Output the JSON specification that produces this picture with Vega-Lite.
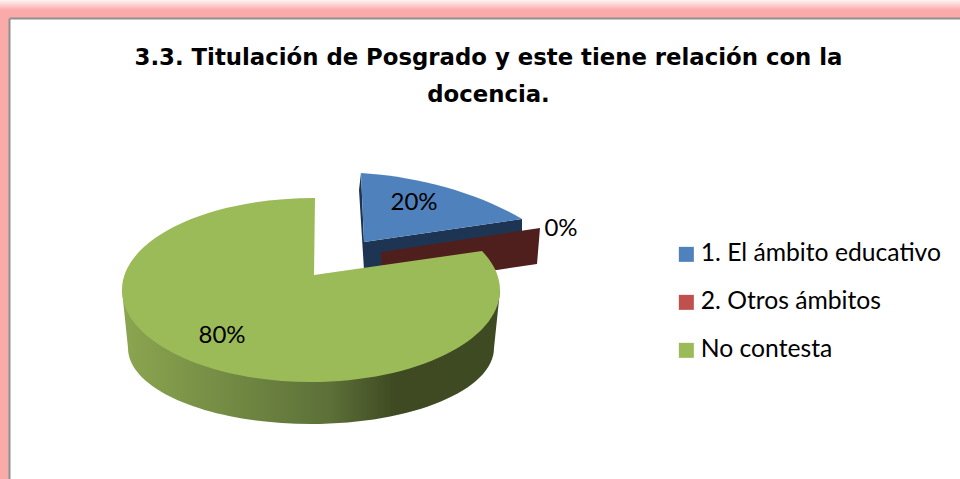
{"$schema":"https://vega.github.io/schema/vega-lite/v6.json","width":951,"height":461,"autosize":"none","padding":{"left":9,"top":18,"right":0,"bottom":0},"background":"#fbaaaa","view":{"fill":"#ffffff","stroke":null},"title":{"text":["3.3. Titulación de Posgrado y este tiene relación con la","docencia."],"font":"DejaVu Sans","fontWeight":"bold","fontSize":22.8,"color":"#000000","anchor":"middle","orient":"top","offset":-107,"dx":4,"lineHeight":37},"data":{"values":[{"category":"1. El ámbito educativo","share":0.2},{"category":"2. Otros ámbitos","share":0},{"category":"No contesta","share":0.8}]},"layer":[{"mark":{"type":"rule","opacity":0},"encoding":{"x":{"datum":0.5,"type":"quantitative","scale":{"domain":[0,1]},"axis":{"orient":"top","labels":false,"ticks":false,"grid":false,"title":null,"domain":true,"domainColor":"#8f8f8f","domainWidth":2}},"y":{"datum":0.5,"type":"quantitative","scale":{"domain":[0,1]},"axis":{"orient":"left","labels":false,"ticks":false,"grid":false,"title":null,"domain":true,"domainColor":"#8f8f8f","domainWidth":2}}}},{"transform":[{"filter":"datum.share === 0"}],"mark":{"type":"point","filled":true,"opacity":1,"size":40000,"x":471,"y":0,"fill":{"gradient":"linear","x1":0,"y1":0,"x2":0,"y2":1,"stops":[{"offset":0,"color":"#fff4f4"},{"offset":1,"color":"#fbaaaa"}]},"shape":"M -4.8 -.18 L 4.9 -.18 L 4.9 -.08 L -4.8 -.08 Z"},"encoding":{}},{"transform":[{"filter":"datum.share === 0.2"}],"mark":{"type":"point","filled":true,"opacity":1,"size":40000,"x":302,"y":272,"fill":"#1d3552","shape":"M .53 -.48 L .50 -1.17 L .48 -1.0 L .53 -.2 L 2.11 -.55 L 2.11 -.71 Z"},"encoding":{}},{"transform":[{"filter":"datum.share === 0.2"}],"mark":{"type":"point","filled":true,"opacity":1,"size":40000,"x":302,"y":272,"shape":"M .53 -.48 L .50 -1.17 C 1.0 -1.14 1.62 -1.0 2.11 -.71 Z"},"encoding":{"color":{"field":"category","type":"nominal","scale":{"domain":["1. El ámbito educativo","2. Otros ámbitos","No contesta"],"range":["#4f81bd","#c0504d","#9bbb59"]},"legend":{"orient":"none","legendX":665,"legendY":224,"title":null,"symbolType":"square","symbolSize":225,"symbolStrokeWidth":0,"labelFont":"Lato","labelFontSize":24.7,"labelColor":"#000000","labelLimit":400,"rowPadding":22,"labelOffset":2}}}},{"transform":[{"filter":"datum.share === 0"}],"mark":{"type":"point","filled":true,"opacity":1,"size":40000,"x":302,"y":272,"fill":"#4f1f1e","shape":"M .70 -.38 L 2.29 -.62 L 2.26 -.26 L 1.86 -.2 L .70 -.25 Z"},"encoding":{}},{"transform":[{"filter":"datum.share === 0.8"}],"mark":{"type":"point","filled":true,"opacity":1,"size":40000,"x":302,"y":272,"fill":{"gradient":"linear","x1":0,"y1":0,"x2":1,"y2":0,"stops":[{"offset":0,"color":"#8ba650"},{"offset":0.55,"color":"#5c7038"},{"offset":0.72,"color":"#3f4a22"},{"offset":1,"color":"#3e4a22"}]},"shape":"M -1.89 0 L -1.83 .58 C -1.83 1.0 -1.011 1.34 0 1.34 C 1.011 1.34 1.83 1.0 1.83 .58 L 1.88 .1 L 1.89 0 Z"},"encoding":{}},{"transform":[{"filter":"datum.share === 0.8"}],"mark":{"type":"point","filled":true,"opacity":1,"size":40000,"x":302,"y":272,"shape":"M .03 -.15 L .04 -.92 C -1.044 -.92 -1.89 -.508 -1.89 0 C -1.89 .508 -1.044 .92 0 .92 C 1.044 .92 1.89 .508 1.89 0 C 1.89 -.135 1.827 -.268 1.71 -.39 Z"},"encoding":{"color":{"field":"category","type":"nominal"}}},{"mark":{"type":"text","font":"Lato","fontSize":24,"color":"#000000","align":"center","baseline":"middle"},"encoding":{"text":{"field":"share","type":"quantitative","format":".0%"},"x":{"field":"share","type":"quantitative","scale":{"domain":[0,0.2,0.8],"range":[552,405,213]},"axis":null},"y":{"field":"share","type":"quantitative","scale":{"domain":[0,0.2,0.8],"range":[211,185,318]},"axis":null}}}],"resolve":{"scale":{"x":"independent","y":"independent"}}}
